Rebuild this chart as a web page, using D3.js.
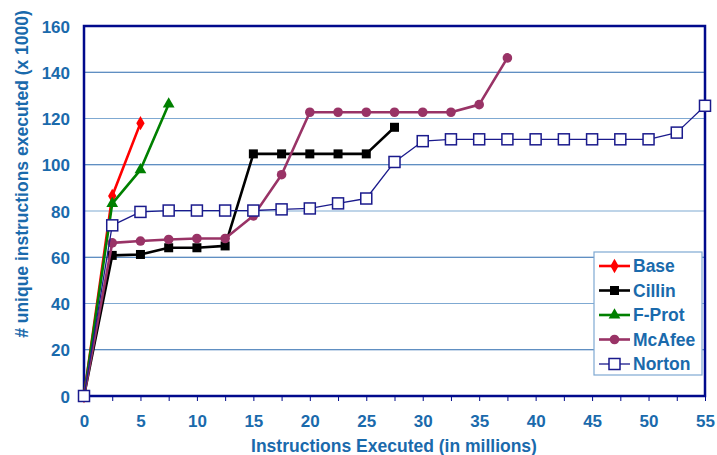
<!DOCTYPE html>
<html>
<head>
<meta charset="utf-8">
<script src="https://cdn.jsdelivr.net/npm/d3@7"></script>
<style>
  html, body { margin: 0; padding: 0; background: #fff; }
  svg { display: block; }
  text { font-family: "Liberation Sans", Arial, sans-serif; font-weight: bold; }
</style>
</head>
<body>
<svg id="chart" width="717" height="455"></svg>
<script>
// Instructions executed (millions) at each sample point
const xSteps = [0, 2.5, 5, 7.5, 10, 12.5, 15, 17.5, 20, 22.5, 25, 27.5, 30, 32.5, 35, 37.5, 40, 42.5, 45, 47.5, 50, 52.5, 55];

// Unique instructions executed (x 1000) per scanner
const baseValues   = [0, 86.5, 118];
const cillinValues = [0, 60.8, 61.2, 64.1, 64.1, 64.9, 104.7, 104.7, 104.7, 104.7, 104.7, 116.2];
const fprotValues  = [0, 83.2, 97.8, 126.2];
const mcafeeValues = [0, 66.2, 67, 67.7, 68.1, 68.1, 77.9, 95.7, 122.7, 122.7, 122.7, 122.7, 122.7, 122.7, 126, 146.2];
const nortonValues = [0, 73.8, 79.6, 80.2, 80.2, 80.2, 80.2, 80.7, 81.1, 83.3, 85.4, 101.2, 110.2, 111, 111, 111, 111, 111, 111, 111, 111, 113.9, 125.5];

const seriesNames = ["Base", "Cillin", "F-Prot", "McAfee", "Norton"];

const xTickValues = [0, 5, 10, 15, 20, 25, 30, 35, 40, 45, 50, 55];
const yTickValues = [0, 20, 40, 60, 80, 100, 120, 140, 160];

const textColor = "#1a6aac";
const navy = "#000a8c";

const series = [
  { name: seriesNames[0], values: baseValues,   color: "#ff0000", width: 2.6, marker: "diamond" },
  { name: seriesNames[1], values: cillinValues, color: "#000000", width: 2.6, marker: "square" },
  { name: seriesNames[2], values: fprotValues,  color: "#008000", width: 2.6, marker: "triangle" },
  { name: seriesNames[3], values: mcafeeValues, color: "#993366", width: 2.6, marker: "circle" },
  { name: seriesNames[4], values: nortonValues, color: "#1a1a8c", width: 1.3, marker: "openSquare" }
];

const svg = d3.select("#chart");
const m = { left: 84, right: 12, top: 26, bottom: 59 };
const W = 717, H = 455;

const x = d3.scaleLinear().domain([0, 55]).range([m.left, W - m.right]);
const y = d3.scaleLinear().domain([0, 160]).range([H - m.bottom, m.top]);

// horizontal gridlines, alternating shades
svg.append("g").selectAll("line")
  .data(yTickValues.filter(v => v > 0 && v < 160))
  .join("line")
  .attr("x1", x(0)).attr("x2", x(55))
  .attr("y1", d => y(d)).attr("y2", d => y(d))
  .attr("stroke", d => (d / 20) % 2 === 0 ? "#7fa9d2" : "#2b6aae")
  .attr("stroke-width", 1.2);

// frame
svg.append("rect")
  .attr("x", x(0)).attr("y", y(160))
  .attr("width", x(55) - x(0)).attr("height", y(0) - y(160))
  .attr("fill", "none").attr("stroke", navy).attr("stroke-width", 2.5);

// x axis with minor ticks every 2.5
const xAxis = d3.axisBottom(x)
  .tickValues(d3.range(0, 55.01, 2.5))
  .tickSize(5)
  .tickFormat(d => xTickValues.includes(d) ? d : "");
const gx = svg.append("g").attr("transform", `translate(0,${y(0)})`).call(xAxis);
gx.select(".domain").remove();
gx.selectAll(".tick line").attr("stroke", navy).attr("stroke-width", 1);
gx.selectAll(".tick text")
  .attr("fill", textColor).attr("font-size", 17).attr("font-weight", "bold")
  .attr("font-family", "Liberation Sans, Arial, sans-serif")
  .attr("y", 31).attr("dy", null);

// y axis
const yAxis = d3.axisLeft(y).tickValues(yTickValues).tickSize(0).tickPadding(14);
const gy = svg.append("g").attr("transform", `translate(${x(0)},0)`).call(yAxis);
gy.select(".domain").remove();
gy.selectAll(".tick text")
  .attr("fill", textColor).attr("font-size", 17).attr("font-weight", "bold")
  .attr("font-family", "Liberation Sans, Arial, sans-serif")
  .attr("dy", "0.36em");

// axis titles
svg.append("text")
  .attr("x", 394).attr("y", 452)
  .attr("text-anchor", "middle").attr("fill", textColor).attr("font-size", 17.5)
  .text("Instructions Executed (in millions)");
svg.append("text")
  .attr("transform", `translate(28,174) rotate(-90)`)
  .attr("text-anchor", "middle").attr("fill", textColor).attr("font-size", 17.5)
  .text("# unique instructions executed (x 1000)");

function drawMarker(g, s, cx, cy) {
  switch (s.marker) {
    case "diamond":
      g.append("path").attr("d", d3.symbol(d3.symbolDiamond, 60)())
        .attr("transform", `translate(${cx},${cy})`).attr("fill", s.color);
      break;
    case "square":
      g.append("rect").attr("x", cx - 4.5).attr("y", cy - 4.5).attr("width", 9).attr("height", 9)
        .attr("fill", s.color);
      break;
    case "triangle":
      g.append("path").attr("d", d3.symbol(d3.symbolTriangle, 60)())
        .attr("transform", `translate(${cx},${cy})`).attr("fill", s.color);
      break;
    case "circle":
      g.append("circle").attr("cx", cx).attr("cy", cy).attr("r", 4.8).attr("fill", s.color);
      break;
    case "openSquare":
      g.append("rect").attr("x", cx - 5.5).attr("y", cy - 5.5).attr("width", 11).attr("height", 11)
        .attr("fill", "#fff").attr("stroke", s.color).attr("stroke-width", 1.5);
      break;
  }
}

const line = d3.line().x(d => x(d[0])).y(d => y(d[1]));

series.forEach(s => {
  const pts = s.values.map((v, i) => [xSteps[i], v]);
  const g = svg.append("g");
  g.append("path").attr("d", line(pts))
    .attr("fill", "none").attr("stroke", s.color).attr("stroke-width", s.width)
    .attr("stroke-linejoin", "round");
  pts.forEach(p => drawMarker(g, s, x(p[0]), y(p[1])));
});

// legend
const lg = svg.append("g").attr("transform", "translate(594,252)");
lg.append("rect").attr("width", 108).attr("height", 123)
  .attr("fill", "#fff").attr("stroke", "#7fa9d2").attr("stroke-width", 1.2);
series.forEach((s, i) => {
  const cy = 14 + i * 24.5;
  const row = lg.append("g");
  row.append("line").attr("x1", 5).attr("x2", 36).attr("y1", cy).attr("y2", cy)
    .attr("stroke", s.color).attr("stroke-width", s.width);
  drawMarker(row, s, 20.5, cy);
  row.append("text").attr("x", 39).attr("y", cy + 6)
    .attr("fill", textColor).attr("font-size", 17.5).text(s.name);
});
</script>
</body>
</html>
